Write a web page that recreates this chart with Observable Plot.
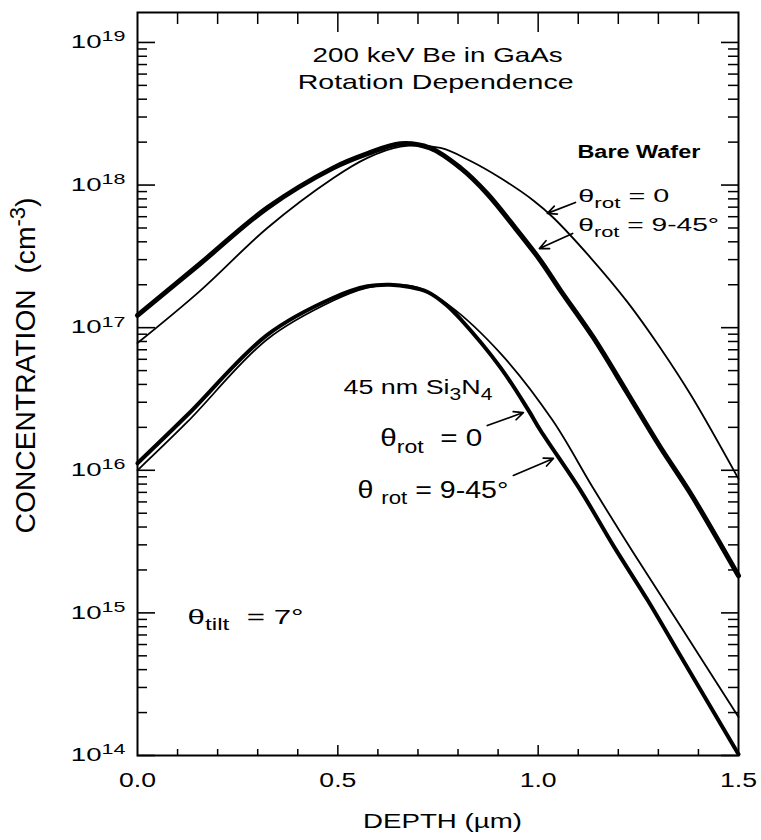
<!DOCTYPE html>
<html>
<head>
<meta charset="utf-8">
<script src="https://cdn.jsdelivr.net/npm/d3@7"></script>
<script src="https://cdn.jsdelivr.net/npm/@observablehq/plot@0.6"></script>
<style>
html, body { margin: 0; padding: 0; background: #fff; }
</style>
</head>
<body>
<div id="chart"></div>
<script>
// ---------------- DATA (depth in µm, concentration in cm^-3) ----------------
// Bare wafer, theta_rot = 0 (thin line)
const bareRot0Depth = [0, 0.157, 0.324, 0.489, 0.574, 0.656, 0.756, 0.830, 0.906, 0.988, 1.038, 1.131, 1.223, 1.305, 1.383, 1.5];
const bareRot0Conc  = [7.8e16, 1.82e17, 5.0e17, 1.12e18, 1.55e18, 1.86e18, 1.82e18, 1.48e18, 1.12e18, 7.8e17, 5.9e17, 3.09e17, 1.51e17, 7.2e16, 3.3e16, 8.7e15];
// Bare wafer, theta_rot = 9-45° (thick line)
const bareRot945Depth = [0, 0.157, 0.324, 0.489, 0.574, 0.656, 0.730, 0.806, 0.873, 0.948, 1.006, 1.056, 1.138, 1.223, 1.305, 1.380, 1.5];
const bareRot945Conc  = [1.22e17, 2.82e17, 6.92e17, 1.32e18, 1.66e18, 1.95e18, 1.82e18, 1.32e18, 8.7e17, 4.79e17, 2.95e17, 1.82e17, 8.5e16, 3.47e16, 1.45e16, 6.9e15, 1.82e15];
// 45 nm Si3N4, theta_rot = 0 (thin line)
const siRot0Depth = [0, 0.125, 0.324, 0.489, 0.574, 0.630, 0.700, 0.781, 0.906, 1.036, 1.136, 1.238, 1.355, 1.5];
const siRot0Conc  = [1.0e16, 2.19e16, 8.3e16, 1.55e17, 1.91e17, 2.0e17, 1.91e17, 1.41e17, 6.6e16, 2.24e16, 7.6e15, 2.63e15, 8.1e14, 1.86e14];
// 45 nm Si3N4, theta_rot = 9-45° (thick line)
const siRot945Depth = [0, 0.125, 0.324, 0.489, 0.574, 0.630, 0.680, 0.724, 0.770, 0.806, 0.906, 0.976, 1.006, 1.106, 1.188, 1.273, 1.355, 1.5];
const siRot945Conc  = [1.12e16, 2.45e16, 8.9e16, 1.62e17, 1.95e17, 2.0e17, 1.93e17, 1.78e17, 1.45e17, 1.15e17, 5.25e16, 2.63e16, 1.9e16, 7.2e15, 2.95e15, 1.23e15, 5.0e14, 1.02e14];

// Axis ticks and labels
const xTickValues = [0, 0.5, 1.0, 1.5];
const xTickLabels = ["0.0", "0.5", "1.0", "1.5"];
const yDecades = [1e14, 1e15, 1e16, 1e17, 1e18, 1e19];
const yTickLabels = ["10{^14}", "10{^15}", "10{^16}", "10{^17}", "10{^18}", "10{^19}"];
const xAxisLabel = "DEPTH (µm)";
const yAxisLabel = "CONCENTRATION  (cm{^-3})";

// Annotation texts ({_x} = subscript, {^x} = superscript)
const titleText  = ["200 keV Be in GaAs", "Rotation Dependence"];
const titleDepth = [0.749, 0.744];
const titleConc  = [7.24e18, 4.75e18];
const groupText  = ["Bare Wafer"];
const groupDepth = [1.098];
const groupConc  = [1.56e18];
const noteText  = ["θ{_rot} = 0", "θ{_rot} = 9-45°", "45 nm Si{_3}N{_4}", "θ{_rot}  = 0", "θ {_rot} = 9-45°", "θ{_tilt}  = 7°"];
const noteDepth = [1.100, 1.100, 0.514, 0.606, 0.549, 0.125];
const noteConc  = [7.55e17, 4.73e17, 3.40e16, 1.47e16, 6.44e15, 8.3e14];

// Arrows from labels to curves
const arrowFromDepth = [1.093, 1.086, 0.873, 0.938];
const arrowFromConc  = [7.55e17, 4.58e17, 2.06e16, 9.2e15];
const arrowToDepth   = [1.023, 1.003, 0.963, 1.038];
const arrowToConc    = [6.33e17, 3.59e17, 2.54e16, 1.21e16];

// ---------------- LAYOUT / STYLE ----------------
const W = 761, H = 840, mL = 137, mR = 23, mT = 12, mB = 85;
const yTop = Math.pow(10, 19.21);
const perPxX = 1.5 / (W - mL - mR);
const perPxY = Math.pow(10, (Math.log10(yTop) - 14) / (H - mT - mB));
const font = "'Liberation Sans', Arial, Helvetica, sans-serif";

const toRows = (depth, conc) => depth.map((d, i) => ({depth: d, conc: conc[i]}));
const bareRot0 = toRows(bareRot0Depth, bareRot0Conc);
const bareRot945 = toRows(bareRot945Depth, bareRot945Conc);
const siRot0 = toRows(siRot0Depth, siRot0Conc);
const siRot945 = toRows(siRot945Depth, siRot945Conc);
const titles = toRows(titleDepth, titleConc).map((r, i) => ({...r, text: titleText[i]}));
const groups = toRows(groupDepth, groupConc).map((r, i) => ({...r, text: groupText[i]}));
const notes = toRows(noteDepth, noteConc).map((r, i) => ({...r, text: noteText[i]}));
const arrows = arrowFromDepth.map((d, i) => ({x1: d, y1: arrowFromConc[i], x2: arrowToDepth[i], y2: arrowToConc[i]}));

const noteFontSize = [19, 19, 21, 23, 23, 21];

const yMinor = [];
for (let e = 14; e < 19; e++) for (let m = 2; m <= 9; m++) yMinor.push(m * Math.pow(10, e));
const xMinor = d3.range(1, 15).map(i => i / 10).filter(v => v !== 0.5 && v !== 1);
const xInner = [0.5, 1.0];

const chart = Plot.plot({
  width: W, height: H,
  marginLeft: mL, marginRight: mR, marginTop: mT, marginBottom: mB,
  style: {fontFamily: font, background: "#fff", color: "#000"},
  x: {domain: [0, 1.5]},
  y: {type: "log", domain: [1e14, yTop]},
  marks: [
    Plot.axisX({ticks: xTickValues, tickSize: 0, tickPadding: 17, fontSize: 21, label: null,
      tickFormat: d => xTickLabels[xTickValues.indexOf(d)]}),
    Plot.axisY({ticks: yDecades, tickSize: 0, tickPadding: 12, fontSize: 18, label: null,
      tickFormat: d => yTickLabels[yDecades.indexOf(d)]}),
    // inward ticks: left
    Plot.ruleY(yDecades, {x1: 0, x2: 18 * perPxX, strokeWidth: 1.6}),
    Plot.ruleY(yMinor, {x1: 0, x2: 10 * perPxX, strokeWidth: 1.5}),
    // right
    Plot.ruleY(yDecades, {x1: 1.5 - 17 * perPxX, x2: 1.5, strokeWidth: 1.6}),
    Plot.ruleY(yMinor, {x1: 1.5 - 10 * perPxX, x2: 1.5, strokeWidth: 1.5}),
    // bottom
    Plot.ruleX(xMinor, {y1: 1e14, y2: 1e14 * Math.pow(perPxY, 6), strokeWidth: 1.5}),
    Plot.ruleX(xInner, {y1: 1e14, y2: 1e14 * Math.pow(perPxY, 10), strokeWidth: 1.5}),
    // top
    Plot.ruleX(xMinor, {y1: yTop / Math.pow(perPxY, 12), y2: yTop, strokeWidth: 1.5}),
    Plot.ruleX(xInner, {y1: yTop / Math.pow(perPxY, 20), y2: yTop, strokeWidth: 1.5}),
    Plot.frame({stroke: "#000", strokeWidth: 2}),
    // curves
    Plot.line(bareRot945, {x: "depth", y: "conc", curve: "catmull-rom", stroke: "#000", strokeWidth: 5}),
    Plot.line(siRot945, {x: "depth", y: "conc", curve: "catmull-rom", stroke: "#000", strokeWidth: 4}),
    Plot.line(bareRot0, {x: "depth", y: "conc", curve: "catmull-rom", stroke: "#000", strokeWidth: 1.8}),
    Plot.line(siRot0, {x: "depth", y: "conc", curve: "catmull-rom", stroke: "#000", strokeWidth: 1.8}),
    // arrows
    Plot.arrow(arrows, {x1: "x1", y1: "y1", x2: "x2", y2: "y2", stroke: "#000", strokeWidth: 1.7, headLength: 9, headAngle: 50}),
    // annotations
    Plot.text(titles, {x: "depth", y: "conc", text: "text", textAnchor: "middle", lineAnchor: "bottom", fontSize: 21}),
    Plot.text(groups, {x: "depth", y: "conc", text: "text", textAnchor: "start", lineAnchor: "bottom", fontSize: 18, fontWeight: "bold"}),
    Plot.text(notes, {x: "depth", y: "conc", text: "text", textAnchor: "start", lineAnchor: "bottom", fontSize: (d, i) => noteFontSize[i]}),
    // axis titles
    Plot.text([xAxisLabel], {text: d => d, frameAnchor: "bottom", dy: 72, dx: 4.5, lineAnchor: "bottom", fontSize: 21}),
    Plot.text([yAxisLabel], {text: d => d, frameAnchor: "left", rotate: -90, dx: -111, dy: -18.5, lineAnchor: "middle", textAnchor: "middle", fontSize: 28})
  ]
});

document.getElementById("chart").append(chart);

// ---------- post-processing: sub/superscripts and horizontal fitting ----------
function richify(el) {
  const s = el.textContent;
  if (!/\{[_^]/.test(s)) return;
  const fs = parseFloat(getComputedStyle(el).fontSize) || 16;
  while (el.firstChild) el.removeChild(el.firstChild);
  const re = /\{([_^])([^}]*)\}/g;
  let last = 0, m, shift = 0;
  const add = (str, kind) => {
    const t = document.createElementNS("http://www.w3.org/2000/svg", "tspan");
    t.textContent = str;
    const target = kind === "_" ? 0.28 * fs : kind === "^" ? -0.38 * fs : 0;
    if (target !== shift) { t.setAttribute("dy", (target - shift).toFixed(2)); shift = target; }
    if (kind) t.setAttribute("font-size", (0.78 * fs).toFixed(1));
    el.appendChild(t);
  };
  while ((m = re.exec(s))) {
    if (m.index > last) add(s.slice(last, m.index), null);
    add(m[2], m[1]);
    last = re.lastIndex;
  }
  if (last < s.length) add(s.slice(last), null);
}
chart.querySelectorAll("text").forEach(richify);

function stretch(el, target) {
  const w = el.getBBox().width;
  if (!w || !target) return;
  const sx = target / w;
  let tr = el.getAttribute("transform");
  if (!tr) {
    const x = +(el.getAttribute("x") || 0), y = +(el.getAttribute("y") || 0);
    el.removeAttribute("x"); el.removeAttribute("y");
    tr = `translate(${x},${y})`;
  }
  el.setAttribute("transform", `${tr} scale(${sx.toFixed(4)},1)`);
}
const fitTexts = (texts, widths) => texts.forEach((el, i) => stretch(el, Array.isArray(widths) ? widths[i] : widths));
fitTexts(chart.querySelectorAll('g[aria-label="y-axis tick label"] text'), 55);
fitTexts(chart.querySelectorAll('g[aria-label="x-axis tick label"] text'), 37);
// custom text marks, in mark order: titles, group label, notes, x title, y title
const textGroups = [...chart.querySelectorAll("g[aria-label]")]
  .filter(g => !/axis/.test(g.getAttribute("aria-label")) && g.querySelector(":scope > text"));
const groupWidths = [[250, 276], [123], [91, 141, 149, 102, 151, 116], [159], [336]];
textGroups.forEach((g, k) => {
  if (groupWidths[k]) fitTexts(g.querySelectorAll(":scope > text"), groupWidths[k]);
});
</script>
</body>
</html>
